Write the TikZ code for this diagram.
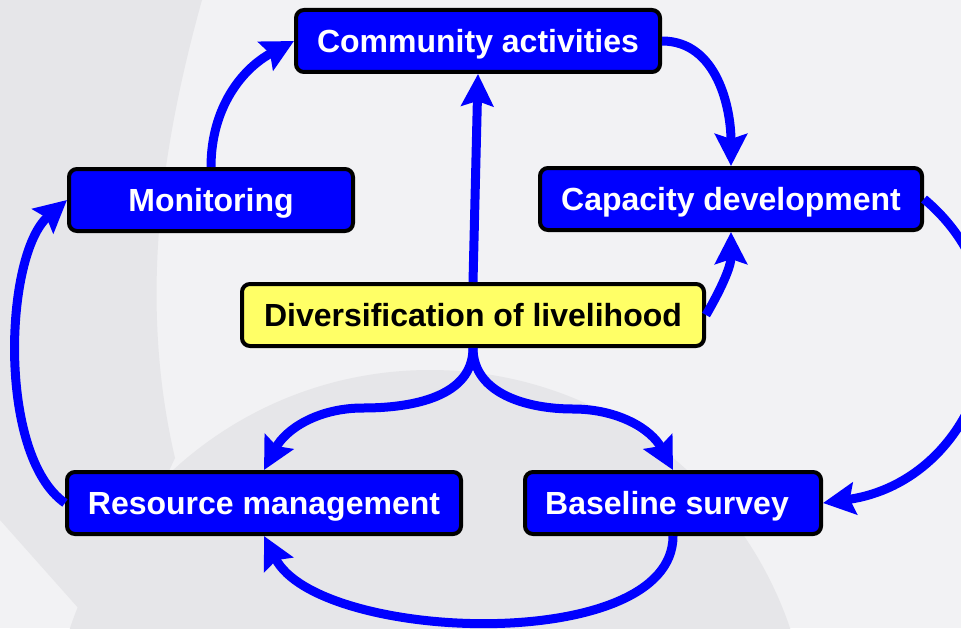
\documentclass[tikz,border=0pt]{standalone}
\usepackage{fontspec}
\setmainfont{Liberation Sans}
\usetikzlibrary{arrows.meta}
\definecolor{bgLight}{HTML}{F2F2F4}
\definecolor{bgDark}{HTML}{E6E6E9}
\definecolor{boxBlue}{HTML}{0000FF}
\definecolor{hubYellow}{HTML}{FFFF66}
\begin{document}
\begin{tikzpicture}[x=0.5pt, y=0.5pt, >={Stealth[length=16pt,width=16pt,inset=2.5pt]},
	box/.style={draw=black, line width=2pt, fill=boxBlue, rounded corners=4pt, text=white,
		font=\fontsize{16}{19}\selectfont\bfseries, minimum height=31pt, inner sep=0pt,
		text height=11.5pt, text depth=0pt},
	hub/.style={box, fill=hubYellow, text=black},
	link/.style={draw=boxBlue, line width=4.5pt, ->}]
	\useasboundingbox (0,0) rectangle (961,628);
	% background
	\fill[bgLight] (0,0) rectangle (961,628);
	\begin{scope}
		\clip (0,0) rectangle (961,628);
		\fill[bgDark] (0,628) -- (202,628) .. controls (158,470) and (140,320) .. (175,170) -- (96,0) -- (0,108) -- cycle;
		\fill[bgDark] (430,-122) circle (380);
	\end{scope}
	% boxes
	\node[box, minimum width=182pt] (comm) at (478,587) {Community activities};
	\node[box, minimum width=142pt] (mon) at (211,428) {Monitoring};
	\node[box, minimum width=191pt] (cap) at (731,429) {Capacity development};
	\node[hub, minimum width=231pt] (div) at (473,313) {Diversification of livelihood};
	\node[box, minimum width=197pt] (res) at (264,125) {Resource management};
	\node[box, minimum width=148pt] (base) at (673,125) {Baseline survey\hspace*{6pt}};
	% links
	\draw[link] (mon.north) to[out=90,in=208] (comm.west);
	\draw[link] (comm.east) to[out=0,in=90] (cap.north);
	\draw[link] (div.north) -- (comm.south);
	\draw[link] (div.east) to[out=60,in=-90] (cap.south);
	\draw[link] (cap.east) to[out=-40,in=8,looseness=1.25] (base.east);
	\draw[link] (div.south) to[out=-90,in=0] ++(-110,-60) to[out=180,in=62] (res.north);
	\draw[link] (div.south) to[out=-90,in=180] ++(100,-61) to[out=0,in=118] (base.north);
	\draw[link] (base.south) to[out=-90,in=-63,looseness=0.75] (res.south);
	\draw[link] (res.west) to[out=145,in=221,looseness=0.7] (mon.west);
\end{tikzpicture}
\end{document}
